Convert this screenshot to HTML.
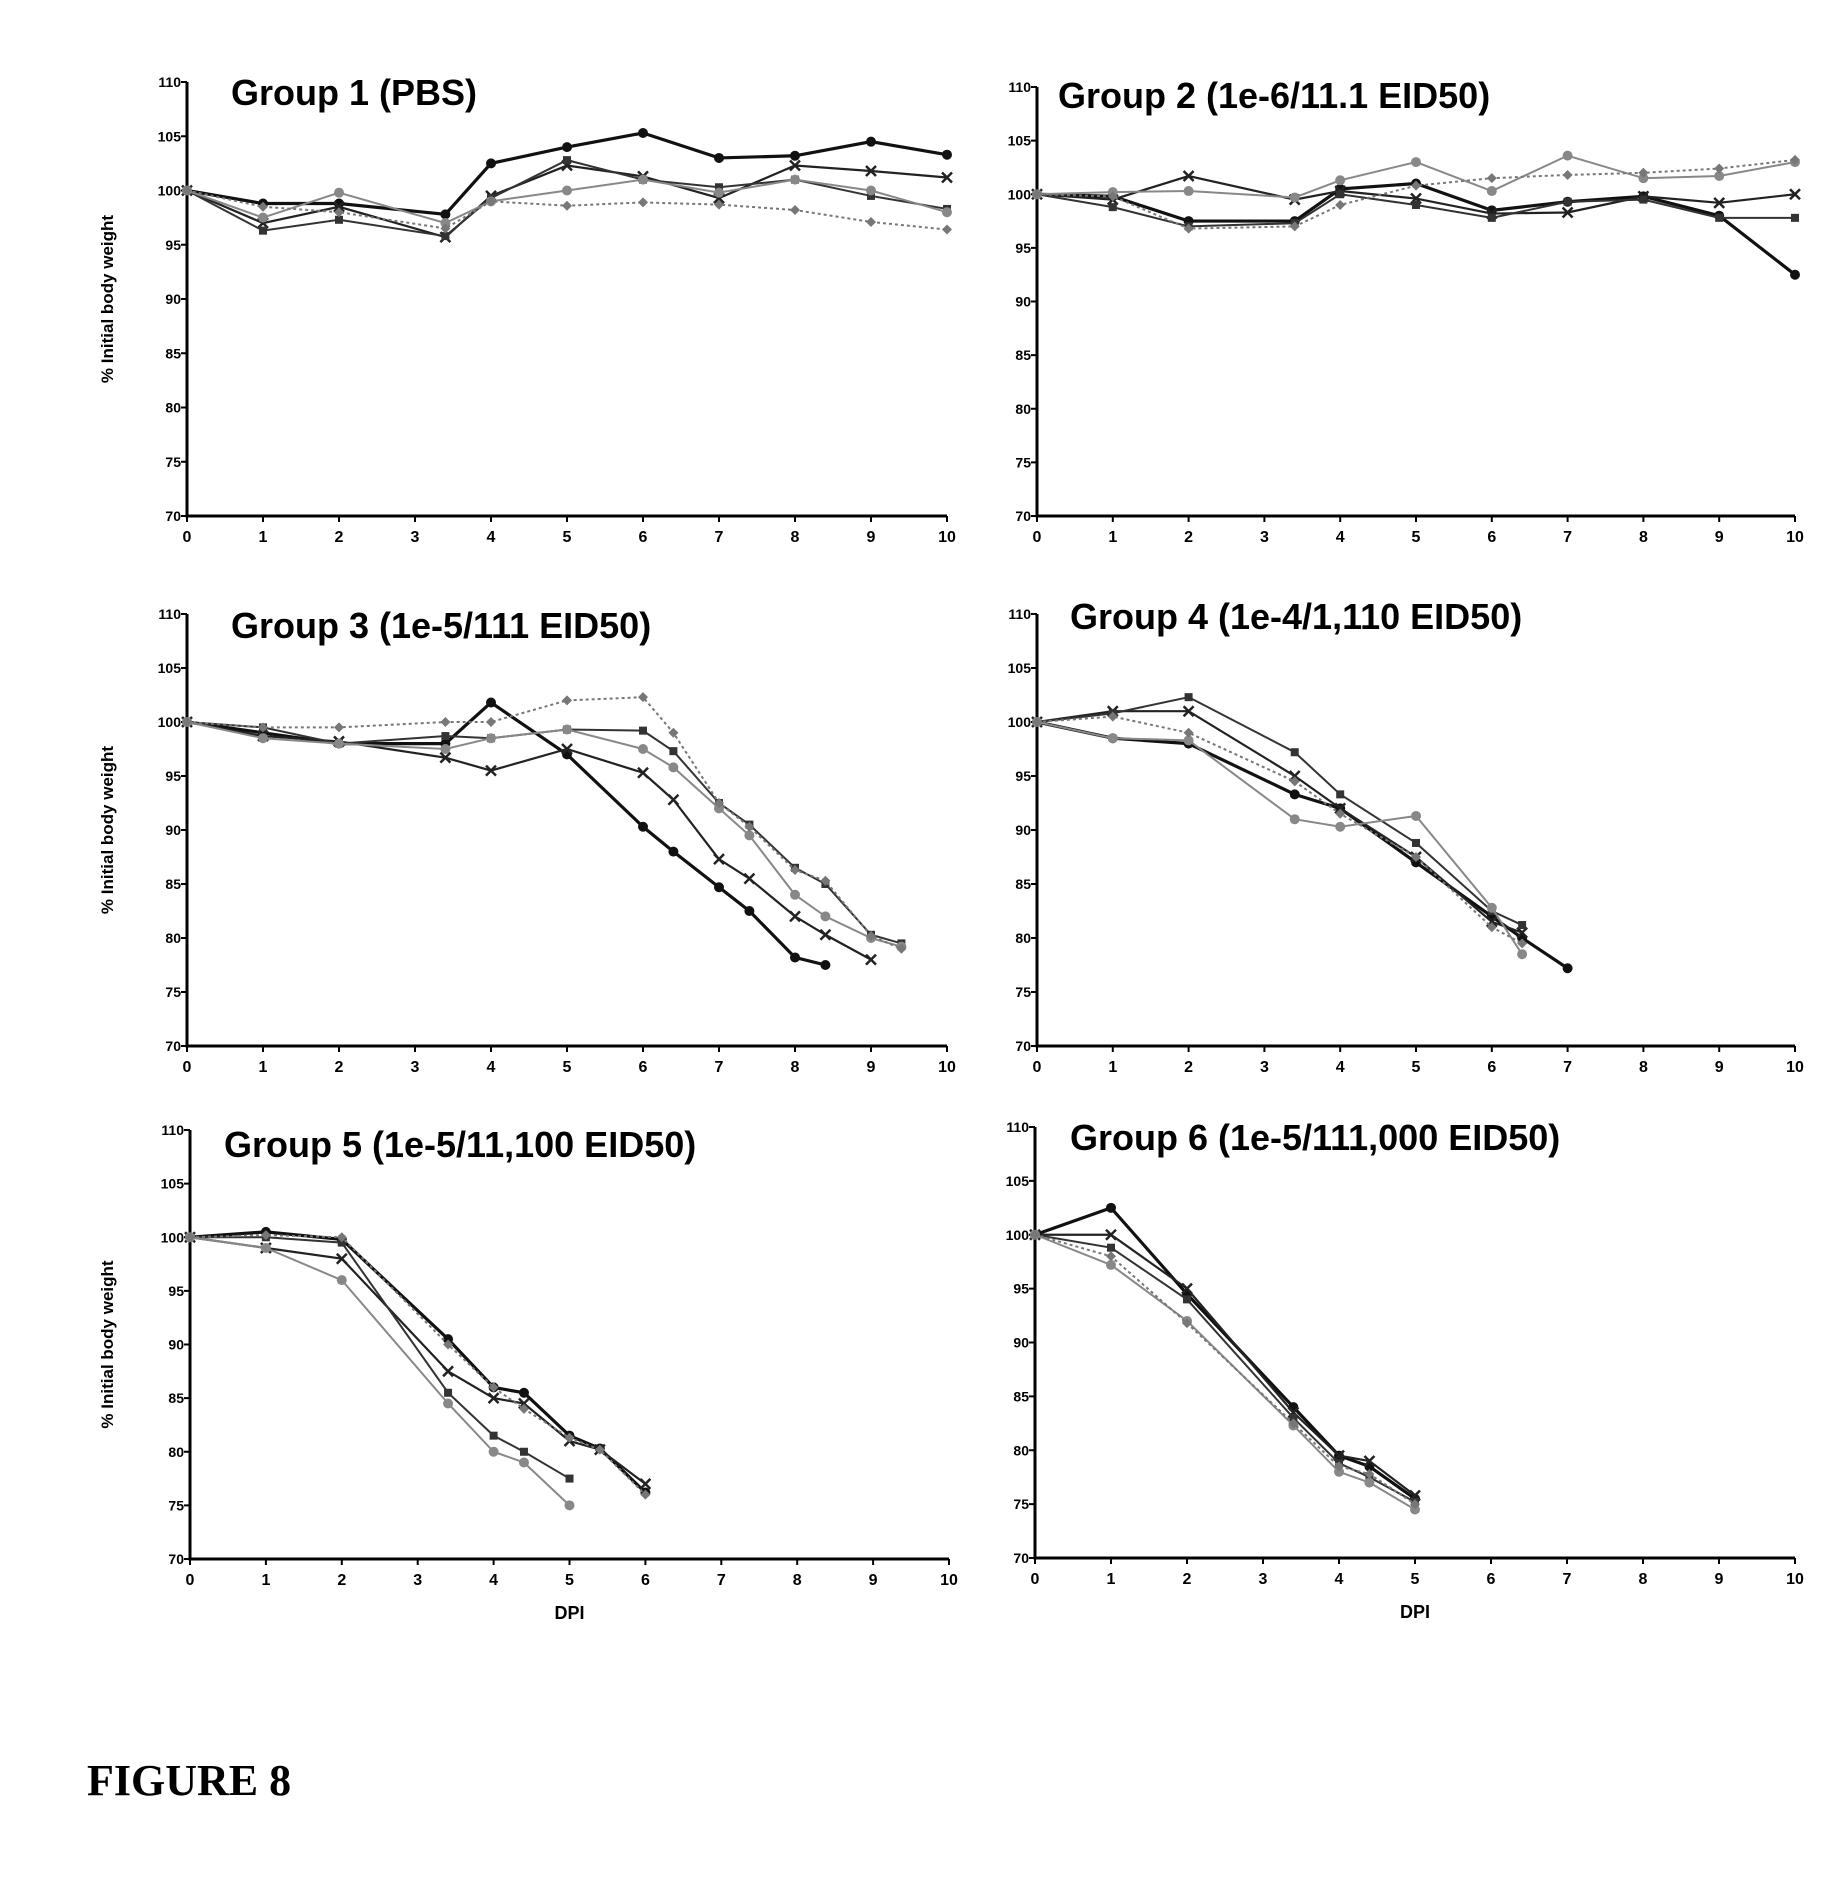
<!DOCTYPE html>
<html><head><meta charset="utf-8">
<style>
html,body{margin:0;padding:0;background:#fff;}
svg{display:block;}
text{font-family:"Liberation Sans",sans-serif;}
</style></head>
<body>
<svg id="fig" width="1843" height="1890" viewBox="0 0 1843 1890" xmlns="http://www.w3.org/2000/svg">
<text x="87" y="1795" font-weight="bold" font-size="44" fill="#000" style="font-family:'Liberation Serif',serif">FIGURE 8</text>
</svg>
<script>
const yTicks = [70,75,80,85,90,95,100,105,110];
const xTicks = [0,1,2,3,4,5,6,7,8,9,10];
const titles = ["Group 1 (PBS)","Group 2 (1e-6/11.1 EID50)","Group 3 (1e-5/111 EID50)","Group 4 (1e-4/1,110 EID50)","Group 5 (1e-5/11,100 EID50)","Group 6 (1e-5/111,000 EID50)"];

const g1x = [0,1,2,3.4,4,5,6,7,8,9,10];
const g1a = [100,98.8,98.8,97.8,102.5,104,105.3,103,103.2,104.5,103.3];
const g1b = [100,97,98.5,95.7,99.5,102.3,101.3,99.3,102.3,101.8,101.2];
const g1c = [100,96.3,97.3,95.8,99.3,102.8,101,100.3,101,99.5,98.3];
const g1d = [100,97.5,99.8,97,99,100,101,99.8,101,100,98];
const g1e = [100,98.5,98,96.5,99,98.6,98.9,98.7,98.2,97.1,96.4];

const g2x = [0,1,2,3.4,4,5,6,7,8,9,10];
const g2a = [100,99.8,97.5,97.5,100.5,101,98.5,99.3,99.8,98,92.5];
const g2b = [100,99.5,101.7,99.5,100.3,99.6,98.2,98.3,99.8,99.2,100];
const g2c = [100,98.8,97,97.3,100,99,97.8,99.3,99.5,97.8,97.8];
const g2d = [100,100.2,100.3,99.7,101.3,103,100.3,103.6,101.5,101.7,103];
const g2e = [100,99.8,96.8,97,99,100.8,101.5,101.8,102,102.4,103.2];

const g3x = [0,1,2,3.4,4,5,6,6.4,7,7.4,8,8.4,9,9.4];
const g3a = [100,99,98,98,101.8,97,90.3,88,84.7,82.5,78.2,77.5];
const g3b = [100,98.7,98.2,96.7,95.5,97.5,95.3,92.8,87.3,85.5,82,80.3,78];
const g3c = [100,99.5,98,98.7,98.5,99.3,99.2,97.3,92.5,90.5,86.5,85,80.3,79.5];
const g3d = [100,98.5,98,97.5,98.5,99.3,97.5,95.8,92,89.5,84,82,80,79.2];
const g3e = [100,99.5,99.5,100,100,102,102.3,99,92.5,90.3,86.3,85.3,80.2,79];

const g4x = [0,1,2,3.4,4,5,6,6.4,7];
const g4a = [100,98.5,98,93.3,92,87,82,80,77.2];
const g4b = [100,101,101,95,92,87.5,81.5,80.5];
const g4c = [100,100.8,102.3,97.2,93.3,88.8,82.5,81.2];
const g4d = [100,98.5,98.3,91,90.3,91.3,82.8,78.5];
const g4e = [100,100.5,99,94.5,91.5,87.5,81,79.5];

const g5x = [0,1,2,3.4,4,4.4,5,5.4,6];
const g5a = [100,100.5,99.8,90.5,86,85.5,81.5,80.3,76.2];
const g5b = [100,99,98,87.5,85,84.5,81,80.2,77];
const g5c = [100,100,99.5,85.5,81.5,80,77.5];
const g5d = [100,99,96,84.5,80,79,75];
const g5e = [100,100.2,100,90,86,84,81.3,80.2,76];

const g6x = [0,1,2,3.4,4,4.4,5];
const g6a = [100,102.5,94.5,84,79.5,78.5,75.5];
const g6b = [100,100,95,83.5,79.5,79,75.8];
const g6c = [100,98.8,94,83,78.8,77.5,75.2];
const g6d = [100,97.2,92,82.3,78,77,74.5];
const g6e = [100,98,91.8,82.5,78.5,77.8,75];

const panelX = [g1x,g2x,g3x,g4x,g5x,g6x];
const panelY = [[g1a,g1b,g1c,g1d,g1e],[g2a,g2b,g2c,g2d,g2e],[g3a,g3b,g3c,g3d,g3e],[g4a,g4b,g4c,g4d,g4e],[g5a,g5b,g5c,g5d,g5e],[g6a,g6b,g6c,g6d,g6e]];

const boxes = [
 {l:187,r:947,t:82,b:516,tx:231,ty:105},
 {l:1037,r:1795,t:87,b:516,tx:1058,ty:108},
 {l:187,r:947,t:614,b:1046,tx:231,ty:638},
 {l:1037,r:1795,t:614,b:1046,tx:1070,ty:629},
 {l:190,r:949,t:1130,b:1559,tx:224,ty:1157},
 {l:1035,r:1795,t:1127,b:1558,tx:1070,ty:1150}
];
const styles = [
 {c:"#111",w:3.2,d:"",m:"circle"},
 {c:"#222",w:2.2,d:"",m:"x"},
 {c:"#333",w:2,d:"",m:"square"},
 {c:"#888",w:2,d:"",m:"circle"},
 {c:"#777",w:2,d:"3,3",m:"diamond"}
];
const NS="http://www.w3.org/2000/svg";
const svg=document.getElementById('fig');
function mk(tag,attrs,parent){const e=document.createElementNS(NS,tag);for(const k in attrs)e.setAttribute(k,attrs[k]);(parent||svg).appendChild(e);return e;}

boxes.forEach((B,pi)=>{
  const g=mk('g',{});
  
  
  const sx=v=>B.l+(B.r-B.l)*v/10;
  const sy=v=>B.b-(B.b-B.t)*(v-70)/40;
  const ax=mk('path',{d:`M${B.l},${B.t} L${B.l},${B.b} L${B.r},${B.b}`,stroke:'#000','stroke-width':3,fill:'none'},g);
  
  
  yTicks.forEach(v=>{
    mk('line',{x1:B.l-6,x2:B.l,y1:sy(v),y2:sy(v),stroke:'#000','stroke-width':2},g);
    const t=mk('text',{x:B.l-6,y:sy(v)+5,'text-anchor':'end','font-size':14,'font-weight':'bold'},g);
    t.textContent=v;
    
    
  });
  xTicks.forEach(v=>{
    mk('line',{x1:sx(v),x2:sx(v),y1:B.b,y2:B.b+6,stroke:'#000','stroke-width':2},g);
    const t=mk('text',{x:sx(v),y:B.b+26,'text-anchor':'middle','font-size':16,'font-weight':'bold'},g);
    t.textContent=v;
    
    
  });
  const tt=mk('text',{x:B.tx,y:B.ty,'font-size':36,'font-weight':'bold'},g);
  tt.textContent=titles[pi];
  
  
  if(pi%2===0){
    const cy=(B.t+B.b)/2;
    const yl=mk('text',{x:0,y:0,'text-anchor':'middle','font-size':17,'font-weight':'bold',transform:`translate(113,${cy}) rotate(-90)`},g);
    yl.textContent='% Initial body weight';
    
    
  }
  if(pi>=4){
    const xl=mk('text',{x:(B.l+B.r)/2,y:B.b+60,'text-anchor':'middle','font-size':18,'font-weight':'bold'},g);
    xl.textContent='DPI';
    
    
  }
  const xs=panelX[pi];
  panelY[pi].forEach((ys,si)=>{
    const S=styles[si];
    const pts=ys.map((v,i)=>sx(xs[i])+','+sy(v)).join(' ');
    const pl=mk('polyline',{points:pts,fill:'none',stroke:S.c,'stroke-width':S.w,'stroke-dasharray':S.d},g);
    
    
    ys.forEach((v,i)=>{
      const X=sx(xs[i]),Y=sy(v);let m;
      if(S.m==='circle') m=mk('circle',{cx:X,cy:Y,r:5,fill:S.c},g);
      else if(S.m==='square') m=mk('rect',{x:X-4,y:Y-4,width:8,height:8,fill:S.c},g);
      else if(S.m==='diamond') m=mk('path',{d:`M${X},${Y-5} L${X+5},${Y} L${X},${Y+5} L${X-5},${Y} Z`,fill:S.c},g);
      else m=mk('path',{d:`M${X-5},${Y-5} L${X+5},${Y+5} M${X+5},${Y-5} L${X-5},${Y+5}`,stroke:S.c,'stroke-width':2.5},g);
      
      
    });
  });
});
</script>
</body></html>
